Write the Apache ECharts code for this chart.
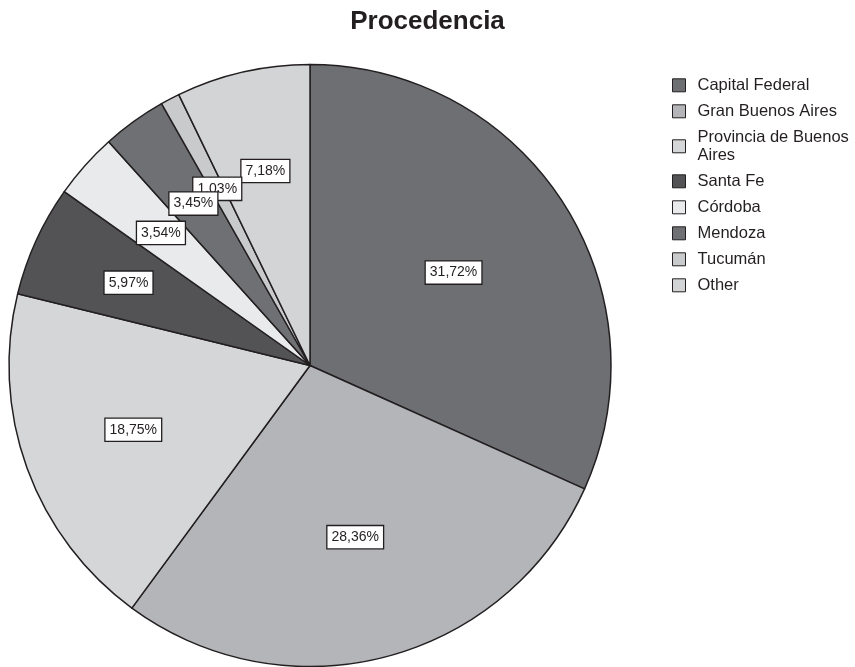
<!DOCTYPE html>
<html>
<head>
<meta charset="utf-8">
<script src="https://cdn.jsdelivr.net/npm/echarts@6/dist/echarts.min.js"></script>
<style>
  html, body { margin: 0; padding: 0; background: #ffffff; }
  #chart { width: 855px; height: 667px; }
</style>
</head>
<body>
<div id="chart"></div>
<script>
// Origin of respondents (percentages)
const categories = [
  'Capital Federal',
  'Gran Buenos Aires',
  'Provincia de Buenos Aires',
  'Santa Fe',
  'Córdoba',
  'Mendoza',
  'Tucumán',
  'Other'
];
const legendNames = [
  'Capital Federal',
  'Gran Buenos Aires',
  'Provincia de Buenos\nAires',
  'Santa Fe',
  'Córdoba',
  'Mendoza',
  'Tucumán',
  'Other'
];
const percentages = [31.72, 28.36, 18.75, 5.97, 3.54, 3.45, 1.03, 7.18];
const sliceColors = ['#6e6f73', '#b4b5b9', '#d5d6d8', '#535355', '#e9eaeb', '#6f7073', '#c9cacc', '#d3d4d6'];

const CENTER = [310, 365.5];
const RADIUS = 301;
const INK = '#231f20';

const fmt = v => v.toFixed(2).replace('.', ',') + '%';

const sliceData = categories.map((c, i) => ({
  name: legendNames[i],
  value: percentages[i],
  itemStyle: { color: sliceColors[i] }
}));

// Transparent overlay pie whose label ring sits at radius `mid`,
// showing the label of one category only.
function labelRing(mid, idx, z) {
  return {
    type: 'pie',
    center: CENTER,
    radius: [mid - 20, mid + 20],
    silent: true,
    z: z,
    startAngle: 90,
    clockwise: true,
    avoidLabelOverlap: false,
    minShowLabelAngle: 0,
    labelLayout: { hideOverlap: false },
    legendHoverLink: false,
    itemStyle: { color: 'rgba(0,0,0,0)', borderWidth: 0 },
    emphasis: { disabled: true },
    labelLine: { show: false },
    data: categories.map((c, i) => ({
      name: legendNames[i],
      value: percentages[i],
      label: {
        show: i === idx,
        position: 'inside',
        formatter: () => fmt(percentages[i]),
        fontFamily: 'Liberation Sans, Arial, sans-serif',
        fontSize: 14,
        lineHeight: 14,
        color: INK,
        backgroundColor: '#ffffff',
        borderColor: INK,
        borderWidth: 1.3,
        padding: [4, 4, 4, 4]
      }
    }))
  };
}

const chart = echarts.init(document.getElementById('chart'), null, { renderer: 'canvas' });
chart.setOption({
  animation: false,
  backgroundColor: '#ffffff',
  title: {
    text: 'Procedencia',
    left: 'center',
    top: 4,
    textStyle: {
      fontFamily: 'Liberation Sans, Arial, sans-serif',
      fontSize: 26,
      fontWeight: 'bold',
      color: INK
    }
  },
  legend: {
    orient: 'vertical',
    left: 672,
    top: 76.3,
    padding: 0,
    icon: 'rect',
    itemWidth: 13,
    itemHeight: 13,
    itemGap: 8,
    selectedMode: false,
    data: legendNames,
    itemStyle: { borderColor: INK, borderWidth: 1 },
    textStyle: {
      fontFamily: 'Liberation Sans, Arial, sans-serif',
      fontSize: 16.5,
      lineHeight: 18,
      color: INK,
      padding: [0, 0, 0, 7]
    }
  },
  series: [
    {
      type: 'pie',
      center: CENTER,
      radius: [0, RADIUS],
      startAngle: 90,
      clockwise: true,
      z: 1,
      emphasis: { disabled: true },
      label: { show: false },
      labelLine: { show: false },
      itemStyle: { borderColor: INK, borderWidth: 1.5 },
      data: sliceData
    },
    labelRing(168, 0, 3),
    labelRing(174.5, 1, 3),
    labelRing(185, 2, 3),
    labelRing(196.5, 3, 3),
    labelRing(196.5, 4, 3),
    labelRing(196.5, 7, 3),
    labelRing(196.5, 6, 4),
    labelRing(196.5, 5, 5)
  ]
});
</script>
</body>
</html>
